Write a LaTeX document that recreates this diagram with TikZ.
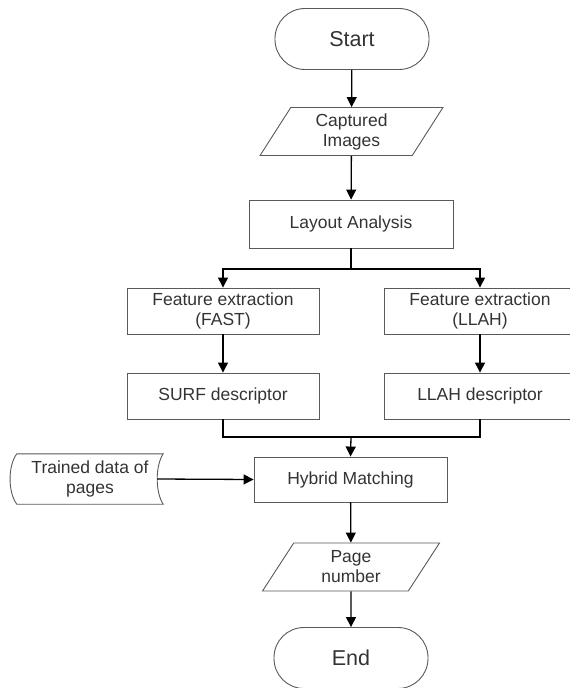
\documentclass[tikz,border=0pt]{standalone}
\usepackage{fontspec}
\setmainfont{Liberation Sans}
\usetikzlibrary{arrows.meta,calc,shapes.geometric}

\begin{document}
\begin{tikzpicture}[x=1pt,y=-1pt,
	boxline/.style={draw=black!65, line width=0.9pt},
	procbox/.style={boxline, rectangle, minimum width=192pt, minimum height=46pt, inner sep=2pt,
		align=center, text=black!80, font=\fontsize{17.5}{20}\selectfont},
	iobox/.style={boxline, trapezium, trapezium stretches=true, trapezium left angle=64,
		trapezium right angle=116, minimum height=48pt, inner sep=1pt,
		align=center, text=black!80, font=\fontsize{17.5}{20}\selectfont},
	termbox/.style={boxline, rectangle, rounded corners=30pt, minimum width=154pt, minimum height=61pt,
		text=black!80, font=\fontsize{21.5}{24}\selectfont},
	flow/.style={black, line width=1.3pt},
	flowarrow/.style={flow, -{Triangle[length=10pt,width=10pt]}}]
	%%%%% START %%%%%
	\clip (0, 0) rectangle (570, 688);
	
	\node[termbox] (start) at (352, 39) {Start};
	\node[iobox, minimum width=183pt] (captured) at (351.5, 131.5) {Captured\\Images};
	\node[procbox, minimum width=204pt, minimum height=48pt] (layout) at (351, 224) {Layout Analysis};
	
	\node[procbox] (featfast) at (223, 311) {Feature extraction\\(FAST)};
	\node[procbox] (featllah) at (480, 311) {Feature extraction\\(LLAH)};
	\node[procbox] (surf) at (223, 396) {SURF descriptor};
	\node[procbox] (llahdesc) at (480, 396) {LLAH descriptor};
	
	\node[procbox, minimum width=193pt, minimum height=45pt] (hybrid) at (350.5, 479.5) {Hybrid Matching};
	\node[text=black!80, align=center, font=\fontsize{17.5}{20}\selectfont,
		minimum width=146pt, minimum height=50pt, inner sep=0pt] (trained) at (90, 479) {Trained data of\\pages};
	\draw[boxline] (trained.north west)
		.. controls ($(trained.north west)+(-9, 12)$) and ($(trained.south west)+(-9, -12)$) .. (trained.south west)
		-- (trained.south east)
		.. controls ($(trained.south east)+(-8, -12)$) and ($(trained.north east)+(-8, 12)$) .. (trained.north east)
		-- cycle;
	
	\node[iobox, minimum width=178pt] (pagenum) at (351, 567) {Page\\number};
	\node[termbox] (finish) at (351, 658) {End};
	
	\coordinate (split) at (351, 269);
	\coordinate (join) at (351, 437);
	
	\draw[flowarrow] (start) -- (captured);
	\draw[flowarrow] (captured) -- (layout);
	\draw[flow] (layout.south) -- (split);
	\draw[flowarrow] (split) -| (featfast.north);
	\draw[flowarrow] (split) -| (featllah.north);
	\draw[flowarrow] (featfast) -- (surf);
	\draw[flowarrow] (featllah) -- (llahdesc);
	\draw[flow] (surf.south) |- (join);
	\draw[flow] (llahdesc.south) |- (join);
	\draw[flowarrow] (join) -- (hybrid.north);
	\draw[flowarrow] ($(trained.east)+(-6, 0)$) -- (hybrid.west);
	\draw[flowarrow] (hybrid) -- (pagenum);
	\draw[flowarrow] (pagenum) -- (finish);
	
	%%%%% END %%%%%
\end{tikzpicture}
\end{document}
